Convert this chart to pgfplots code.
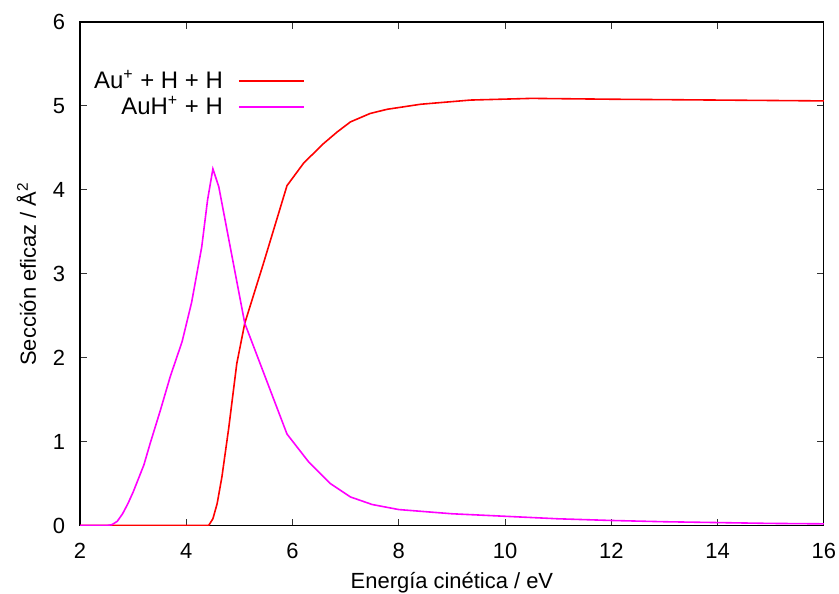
\documentclass[border=0pt]{standalone}
\usepackage{fontspec}
\setmainfont{Liberation Sans}
\usepackage{pgfplots}
\pgfplotsset{compat=1.18}
\definecolor{gpred}{HTML}{FF0000}
\definecolor{gpmag}{HTML}{FF00FF}
\pgfplotsset{legend image code/.code={\path (0cm,0cm); \draw[#1] (0.2cm,0cm) -- (1.35cm,0cm);}}
\begin{document}
\begin{tikzpicture}
\begin{axis}[scale only axis,width=371.5bp,height=251.5bp,
  xmin=2,xmax=16,ymin=0,ymax=6,
  xtick={2,4,...,16},ytick={0,1,...,6},
  tick align=inside,major tick length=3.5bp,
  axis line style={line width=0.6pt},
  tick style={black!80,line width=0.5pt},
  font=\fontsize{11}{13}\selectfont,
  /pgf/number format/assume math mode=true,
  xticklabel style={inner sep=1.5bp,yshift=-7bp},
  yticklabel style={xshift=-4bp},
  xlabel={Energía cinética / eV},
  ylabel={Sección eficaz / Å\textsuperscript{2}},
  xlabel style={inner sep=0.5bp,yshift=-4.5bp},
  ylabel style={yshift=1.5bp},
  legend style={draw=none,fill=none,at={(0.303,0.912)},anchor=north east,
    legend cell align=right,row sep=-1.5bp,inner sep=0pt,
    font=\fontsize{12}{14}\selectfont},
  legend plot pos=right,
  ]
\addplot[gpred,line width=0.8pt] coordinates {
(2,0)(4.42,0)(4.50,0.08)(4.58,0.26)(4.67,0.58)(4.80,1.17)(4.95,1.93)
(5.10,2.41)(5.45,3.12)(5.895,4.05)(6.21,4.32)(6.58,4.55)(6.84,4.69)
(7.09,4.81)(7.46,4.91)(7.78,4.96)(8.41,5.02)(9.35,5.07)(10.5,5.09)
(12,5.08)(14,5.07)(16,5.06)};
\addlegendentry{Au\textsuperscript{+} + H + H}
\addplot[gpmag,line width=0.8pt] coordinates {
(2.0,0)(2.5,0)(2.6,0.01)(2.7,0.05)(2.8,0.14)(2.9,0.26)(3.0,0.40)
(3.2,0.72)(3.32,0.98)(3.51,1.37)(3.7,1.78)(3.92,2.19)(4.10,2.66)
(4.29,3.32)(4.40,3.88)(4.50,4.25)(4.61,4.04)(5.10,2.41)(5.895,1.09)
(6.3,0.76)(6.71,0.50)(7.09,0.34)(7.5,0.25)(8.0,0.19)(9,0.14)(10,0.11)
(11,0.08)(12,0.06)(13,0.045)(14,0.035)(15,0.025)(16,0.02)};
\addlegendentry{AuH\textsuperscript{+} + H}
\end{axis}
\path ([xshift=-40bp]current axis.south west);
\path ([yshift=11bp]current axis.north west);
\end{tikzpicture}
\end{document}
